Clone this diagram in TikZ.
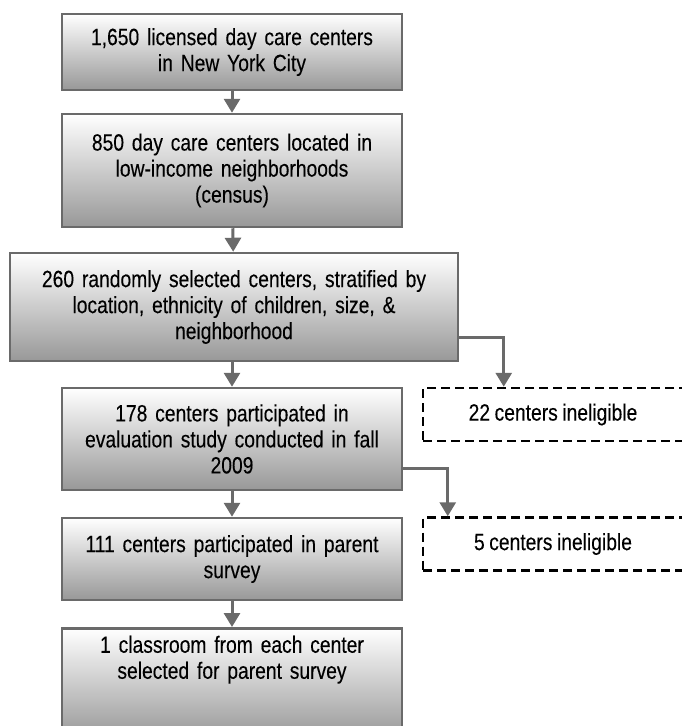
\documentclass[tikz,border=0pt]{standalone}
\usepackage{fontspec}
\setmainfont[FakeStretch=0.82,FakeBold=0.2,WordSpace=0.85]{Liberation Sans}
\usetikzlibrary{arrows.meta}
\definecolor{boxgray}{HTML}{6A6A6A}
\definecolor{shadegray}{HTML}{989898}
\begin{document}
\begin{tikzpicture}[x=1pt,y=-1pt,
  box/.style={draw=boxgray, line width=2.5pt, top color=white, bottom color=shadegray,
    minimum width=340pt, text width=330pt, align=center, inner sep=0pt,
    font=\fontsize{23.5}{26}\selectfont},
  dbox/.style={draw=black, line width=2.5pt, dash pattern=on 9pt off 5pt,
    minimum width=260pt, minimum height=53pt, inner sep=0pt, align=center,
    font=\fontsize{23.5}{26}\selectfont},
  arr/.style={draw=boxgray, line width=3pt, -{Triangle[width=16pt,length=14pt]}}]
\useasboundingbox (0,0) rectangle (681,726);
\node[box, minimum height=76pt] (b1) at (232,52) {1,650 licensed day care centers\\ in New York City};
\node[box, minimum height=113pt] (b2) at (232,170.5) {850 day care centers located in\\ low-income neighborhoods\\ (census)};
\node[box, minimum width=448pt, text width=440pt, minimum height=108pt] (b3) at (234,307) {260 randomly selected centers, stratified by\\ location, ethnicity of children, size, \&\\ neighborhood};
\node[box, minimum height=102pt] (b4) at (232,439) {178 centers participated in\\ evaluation study conducted in fall\\ 2009};
\node[box, minimum height=82pt] (b5) at (232,559) {111 centers participated in parent\\ survey};
\node[box, minimum height=110pt, anchor=north] (b6) at (232,627) {1 classroom from each center\\ selected for parent survey\\ \mbox{}\\ \mbox{}};
\node[dbox] (d1) at (553,414.5) {22 centers ineligible};
\node[dbox] (d2) at (553,544) {5 centers ineligible};
\draw[arr] (b1) -- (b2);
\draw[arr] (b2) -- (b3);
\draw[arr] (b3.south -| b1.south) -- (b4);
\draw[arr] (b4) -- (b5);
\draw[arr] (b5) -- (b6);
\draw[arr] (b3.east |- 0,337) -| ([xshift=82pt]d1.north west);
\draw[arr] (b4.east |- 0,468) -| ([xshift=26pt]d2.north west);
\end{tikzpicture}
\end{document}
